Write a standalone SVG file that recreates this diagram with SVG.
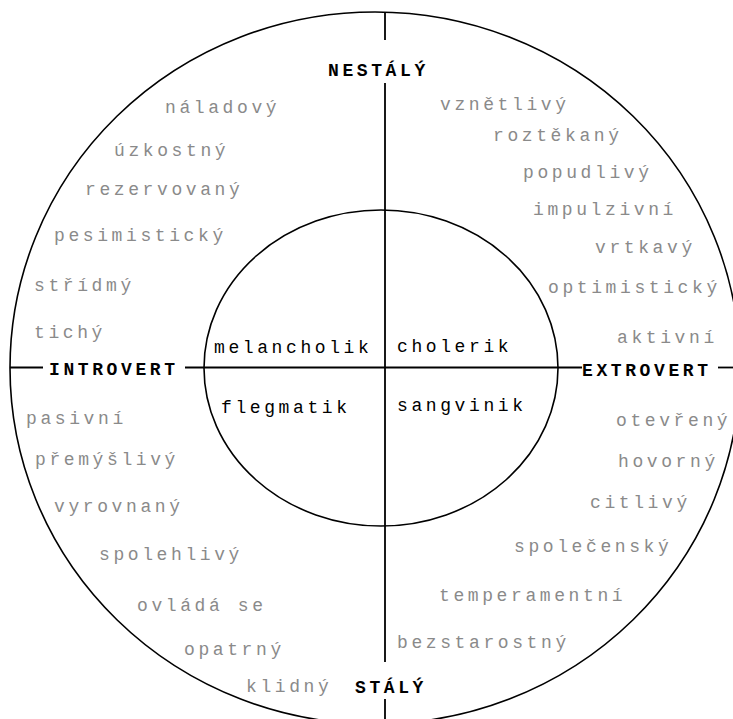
<svg xmlns="http://www.w3.org/2000/svg" width="733" height="719" viewBox="0 0 733 719">
<style>
.ring{fill:none;stroke:#000;stroke-width:1.6}
.ln{stroke:#000;stroke-width:1.8;fill:none}
text{font-family:"Liberation Mono","Courier New",monospace;font-size:18px;letter-spacing:3.6px}
.g{fill:#8a8a8a}
.k{fill:#000}
.b{fill:#000;font-weight:bold}
</style>
<rect width="733" height="719" fill="#fff"/>
<g id="outer-ring"><ellipse class="ring" cx="375" cy="368" rx="365" ry="356"/></g>
<g id="inner-ring"><ellipse class="ring" cx="381" cy="368" rx="177" ry="158"/></g>
<g id="connectors">
<line class="ln" x1="385" y1="12" x2="385" y2="40"/>
<line class="ln" x1="385" y1="83" x2="385" y2="662"/>
<line class="ln" x1="385" y1="699" x2="385" y2="719"/>
<line class="ln" x1="10" y1="367.5" x2="43" y2="367.5"/>
<line class="ln" x1="185" y1="367.5" x2="582" y2="367.5"/>
<line class="ln" x1="718" y1="367.5" x2="733" y2="367.5"/>
</g>
<g id="axis-nestaly"><text class="b" x="328" y="76">NESTÁLÝ</text></g>
<g id="axis-staly"><text class="b" x="355" y="693">STÁLÝ</text></g>
<g id="axis-introvert"><text class="b" x="49" y="375">INTROVERT</text></g>
<g id="axis-extrovert"><text class="b" x="582" y="376">EXTROVERT</text></g>
<g id="type-melancholik"><text class="k" x="214" y="353">melancholik</text></g>
<g id="type-cholerik"><text class="k" x="397" y="352">cholerik</text></g>
<g id="type-flegmatik"><text class="k" x="221" y="413">flegmatik</text></g>
<g id="type-sangvinik"><text class="k" x="397" y="411">sangvinik</text></g>
<g id="traits-melancholik" class="g">
<text class="g" x="165" y="113">náladový</text>
<text class="g" x="114" y="156">úzkostný</text>
<text class="g" x="85" y="195">rezervovaný</text>
<text class="g" x="54" y="241">pesimistický</text>
<text class="g" x="34" y="291">střídmý</text>
<text class="g" x="34" y="338">tichý</text>
</g>
<g id="traits-cholerik">
<text class="g" x="440" y="110">vznětlivý</text>
<text class="g" x="493" y="141">roztěkaný</text>
<text class="g" x="523" y="178">popudlivý</text>
<text class="g" x="533" y="215">impulzivní</text>
<text class="g" x="595" y="253">vrtkavý</text>
<text class="g" x="548" y="293">optimistický</text>
<text class="g" x="617" y="343">aktivní</text>
</g>
<g id="traits-flegmatik">
<text class="g" x="26" y="424">pasivní</text>
<text class="g" x="35" y="465">přemýšlivý</text>
<text class="g" x="54" y="512">vyrovnaný</text>
<text class="g" x="99" y="560">spolehlivý</text>
<text class="g" x="137" y="611">ovládá se</text>
<text class="g" x="184" y="655">opatrný</text>
<text class="g" x="246" y="692">klidný</text>
</g>
<g id="traits-sangvinik">
<text class="g" x="616" y="426">otevřený</text>
<text class="g" x="618" y="467">hovorný</text>
<text class="g" x="590" y="508">citlivý</text>
<text class="g" x="514" y="552">společenský</text>
<text class="g" x="439" y="601">temperamentní</text>
<text class="g" x="397" y="648">bezstarostný</text>
</g>
</svg>
